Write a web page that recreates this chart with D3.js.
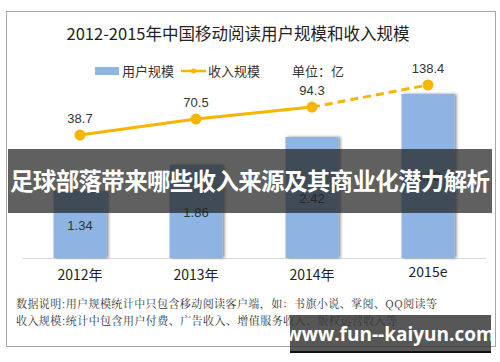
<!DOCTYPE html>
<html><head><meta charset="utf-8">
<script src="https://cdn.jsdelivr.net/npm/d3@7"></script>
<style>body{margin:0;background:#fff}svg{display:block}</style>
</head><body>
<svg id="c" width="500" height="362"></svg>
<script>
const categories = ["2012年", "2013年", "2014年", "2015e"];
const users = [1.34, 1.86, 2.42, 3.28];
const revenue = [38.7, 70.5, 94.3, 138.4];
const title = "2012-2015年中国移动阅读用户规模和收入规模";
const legendLabels = ["用户规模", "收入规模", "单位：亿"];
const notes = ["数据说明:用户规模统计中只包含移动阅读客户端，如：书旗小说、掌阅、QQ阅读等",
               "收入规模:统计中包含用户付费、广告收入、增值服务收入、版权运营收入等"];
const overlayText = "足球部落带来哪些收入来源及其商业化潜力解析";
const watermark = "www.fun--kaiyun.com";

const svg = d3.select("#c");
const font = "'Microsoft YaHei','Noto Sans CJK SC',Arial,sans-serif";

const defs = svg.append("defs");
const f = defs.append("filter").attr("id","sh").attr("x","-20%").attr("y","-5%").attr("width","150%").attr("height","110%");
f.append("feDropShadow").attr("dx",2).attr("dy",0).attr("stdDeviation",1.5).attr("flood-color","#000").attr("flood-opacity",0.45);

// frame
svg.append("rect").attr("x",6.5).attr("y",11.5).attr("width",489).attr("height",335)
  .attr("fill","#fff").attr("stroke","#a6a6a6").attr("stroke-width",1);

svg.append("text").attr("x",238).attr("y",40).attr("text-anchor","middle")
  .attr("font-family",font).attr("font-size",16.5).attr("fill","#222").text(title);

const x = d3.scaleBand().domain(categories).range([22,486]).paddingInner(0.543).paddingOuter(0.2715);
const yBar = d3.scaleLinear().domain([0,4]).range([258,58]);
const yLine = d3.scaleLinear().domain([0,200]).range([154.4,54.1]);

// baseline axis
const axis = svg.append("g").attr("transform","translate(0,258)")
  .call(d3.axisBottom(x).tickSize(0).tickPadding(14));
axis.select(".domain").attr("stroke","#d9d9d9").attr("d","M22,0.5H486");
axis.selectAll("text").attr("font-family",font).attr("font-size",14).attr("fill","#222")
  .attr("dy", d => d==="2015e" ? "0.35em" : "0.6em");

// bars
svg.append("g").selectAll("rect").data(users).join("rect")
  .attr("x",(d,i)=>x(categories[i])).attr("width",x.bandwidth())
  .attr("y",d=>yBar(d)).attr("height",d=>yBar(0)-yBar(d))
  .attr("fill","#8db4e2").attr("filter","url(#sh)");
svg.append("g").selectAll("text").data(users).join("text")
  .attr("x",(d,i)=>x(categories[i])+x.bandwidth()/2)
  .attr("y",d=>(yBar(d)+yBar(0))/2+5)
  .attr("text-anchor","middle").attr("font-family","Arial,'Liberation Sans',sans-serif")
  .attr("font-size",13).attr("fill","#333").text(d=>d.toFixed(2));

// line
const pts = revenue.map((v,i)=>[x(categories[i])+x.bandwidth()/2, yLine(v)]);
const line = d3.line();
svg.append("path").attr("d",line(pts.slice(0,3))).attr("fill","none")
  .attr("stroke","#f5b500").attr("stroke-width",3);
svg.append("path").attr("d",line(pts.slice(2))).attr("fill","none")
  .attr("stroke","#f5b500").attr("stroke-width",3).attr("stroke-dasharray","8,5");
svg.append("g").selectAll("circle").data(pts).join("circle")
  .attr("cx",d=>d[0]).attr("cy",d=>d[1]).attr("r",5.5).attr("fill","#f5b500");
svg.append("g").selectAll("text").data(revenue).join("text")
  .attr("x",(d,i)=>pts[i][0]).attr("y",(d,i)=>pts[i][1]-12)
  .attr("text-anchor","middle").attr("font-family","Arial,'Liberation Sans',sans-serif")
  .attr("font-size",13).attr("fill","#333").text(d=>d.toFixed(1));

// legend
const lg = svg.append("g").attr("font-family",font).attr("font-size",13).attr("fill","#333");
lg.append("rect").attr("x",95).attr("y",67).attr("width",24).attr("height",8).attr("fill","#8db4e2");
lg.append("text").attr("x",122).attr("y",76).text(legendLabels[0]);
lg.append("line").attr("x1",181).attr("x2",206).attr("y1",71).attr("y2",71).attr("stroke","#f5b500").attr("stroke-width",2.5);
lg.append("circle").attr("cx",193.5).attr("cy",71).attr("r",2.5).attr("fill","#f5b500");
lg.append("text").attr("x",208).attr("y",76).text(legendLabels[1]);
lg.append("text").attr("x",292).attr("y",76).text(legendLabels[2]);

// notes
svg.append("g").selectAll("text").data(notes).join("text")
  .attr("x",16).attr("y",(d,i)=>308+i*17)
  .attr("font-family","'Noto Serif CJK SC','Noto Sans CJK SC',serif").attr("font-size",11).attr("fill","#333")
  .attr("textLength",(d,i)=>i===0?421:381).attr("lengthAdjust","spacing").text(d=>d);

// overlay band
svg.append("rect").attr("x",8).attr("y",149).attr("width",484).attr("height",64)
  .attr("fill","#222").attr("fill-opacity",0.72);
svg.append("text").attr("x",250).attr("y",190).attr("text-anchor","middle")
  .attr("font-family","'Noto Sans CJK SC',sans-serif").attr("font-weight","bold")
  .attr("font-size",23.5).attr("fill","#fff").attr("textLength",480).attr("lengthAdjust","spacing").text(overlayText);

// watermark
svg.append("rect").attr("x",290).attr("y",315).attr("width",201).attr("height",37)
  .attr("fill","#3a3a3a").attr("fill-opacity",0.85);
svg.append("rect").attr("x",290).attr("y",351).attr("width",201).attr("height",2).attr("fill","#111");
svg.append("text").attr("x",390).attr("y",341).attr("text-anchor","middle")
  .attr("font-family","'Open Sans','DejaVu Sans',sans-serif").attr("font-weight","bold")
  .attr("font-size",19).attr("fill","#fff").text(watermark);
</script>
</body></html>
